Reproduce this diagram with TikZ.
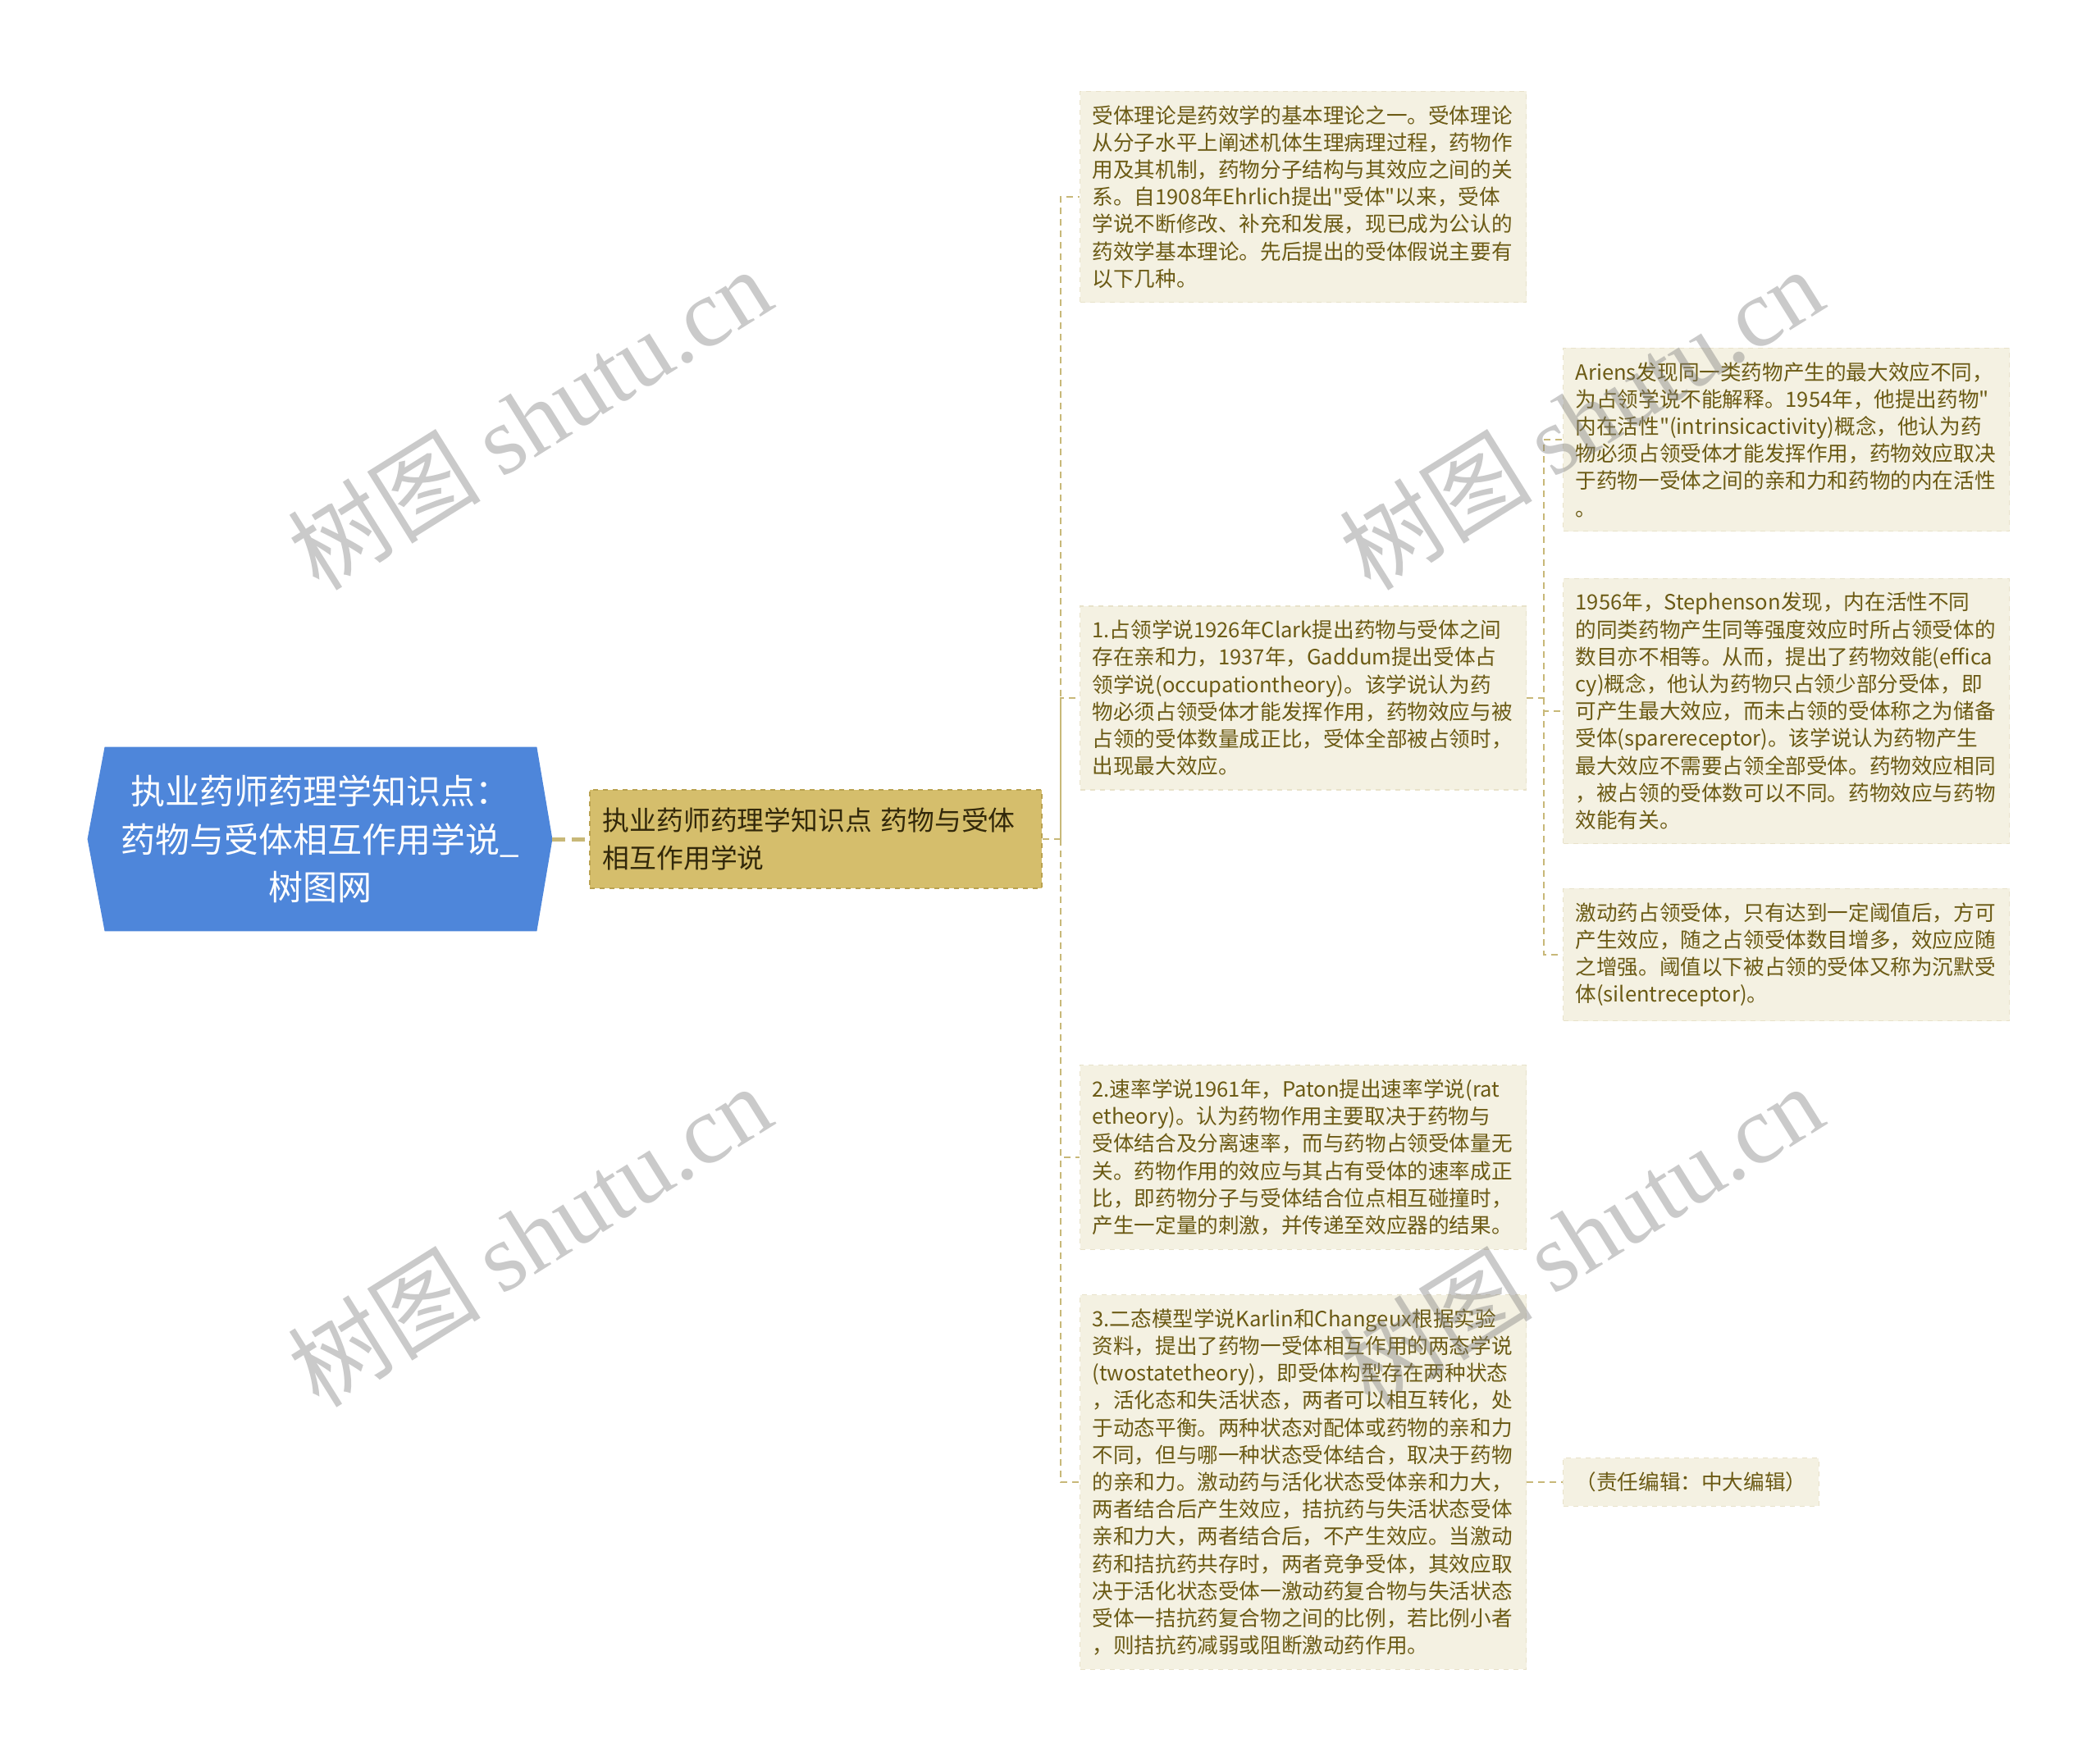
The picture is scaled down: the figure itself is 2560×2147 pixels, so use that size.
\documentclass[tikz,border=0pt]{standalone}
\usepackage{fontspec}
\setmainfont{Noto Sans CJK SC}[Ligatures=TeXOff]
\newfontfamily\wmlatin{Liberation Serif}
\usetikzlibrary{backgrounds}
\definecolor{rootblue}{RGB}{78,134,218}
\definecolor{mainfill}{RGB}{213,190,108}
\definecolor{mainedge}{RGB}{186,162,80}
\definecolor{maintext}{RGB}{50,40,10}
\definecolor{leaffill}{RGB}{244,241,226}
\definecolor{leafedge}{RGB}{232,226,202}
\definecolor{leaftext}{RGB}{107,90,20}
\definecolor{conncol}{RGB}{200,184,120}
\definecolor{wmgray}{RGB}{128,128,128}
\newcommand\leaffont{\fontsize{12.8pt}{16.6pt}\selectfont\hyphenpenalty=10000\exhyphenpenalty=10000\relax}
\newcommand\mainfont{\fontsize{16.4pt}{22.9pt}\selectfont\hyphenpenalty=10000\relax}
\newcommand\rootfont{\fontsize{21pt}{29.4pt}\selectfont}
\newcommand\wmfont{\fontsize{59pt}{68pt}\selectfont}
\begin{document}
\begin{tikzpicture}[x=0.5pt,y=-0.5pt,
  leafbase/.style={fill=leaffill, draw=leafedge, dashed, line width=0.6pt, text=leaftext,
    font=\leaffont, align=left, inner xsep=7.5pt, inner ysep=8.5pt, anchor=west},
  leaf/.style={leafbase, text width=257pt},
  mainnode/.style={fill=mainfill, draw=mainedge, dashed, line width=0.8pt, text=maintext,
    font=\mainfont, align=left, text width=259.5pt, inner xsep=8pt, inner ysep=6pt,
    minimum height=60pt, anchor=west},
  rootnode/.style={text=white, font=\rootfont, align=center, minimum width=283pt,
    minimum height=112pt, inner sep=0pt},
  conn/.style={draw=conncol, line width=1pt, dash pattern=on 4pt off 3pt},
  rootconn/.style={draw=conncol, line width=2.5pt, dash pattern=on 8pt off 4pt},
  wm/.style={text=wmgray, text opacity=0.42, font=\wmfont, rotate=32, inner sep=0pt}]
\useasboundingbox (0,0) rectangle (2560,2147);

% root
\node[rootnode] (root) at (390,1023) {执业药师药理学知识点：\\药物与受体相互作用学说\_\\树图网};
\begin{scope}[on background layer]
\fill[rootblue] ([xshift=10.5pt]root.north west) -- ([xshift=-9.5pt]root.north east) -- (root.east)
  -- ([xshift=-9.5pt]root.south east) -- ([xshift=10.5pt]root.south west) -- (root.west) -- cycle;
\end{scope}

% main
\node[mainnode] (main) at (718,1023) {执业药师药理学知识点 药物与受体\\相互作用学说};

% level 1 leaves
\node[leaf] (L1) at (1316,240) {受体理论是药效学的基本理论之一。受体理论\\从分子水平上阐述机体生理病理过程，药物作\\用及其机制，药物分子结构与其效应之间的关\\系。自1908年Ehrlich提出"受体"以来，受体\\学说不断修改、补充和发展，现已成为公认的\\药效学基本理论。先后提出的受体假说主要有\\以下几种。};
\node[leaf] (L2) at (1316,851) {1.占领学说1926年Clark提出药物与受体之间\\存在亲和力，1937年，Gaddum提出受体占\\领学说(occupationtheory)。该学说认为药\\物必须占领受体才能发挥作用，药物效应与被\\占领的受体数量成正比，受体全部被占领时，\\出现最大效应。};
\node[leaf] (L3) at (1316,1411) {2.速率学说1961年，Paton提出速率学说(rat\\etheory)。认为药物作用主要取决于药物与\\受体结合及分离速率，而与药物占领受体量无\\关。药物作用的效应与其占有受体的速率成正\\比，即药物分子与受体结合位点相互碰撞时，\\产生一定量的刺激，并传递至效应器的结果。};
\node[leaf] (L4) at (1316,1807) {3.二态模型学说Karlin和Changeux根据实验\\资料，提出了药物一受体相互作用的两态学说\\(twostatetheory)，即受体构型存在两种状态\\，活化态和失活状态，两者可以相互转化，处\\于动态平衡。两种状态对配体或药物的亲和力\\不同，但与哪一种状态受体结合，取决于药物\\的亲和力。激动药与活化状态受体亲和力大，\\两者结合后产生效应，拮抗药与失活状态受体\\亲和力大，两者结合后，不产生效应。当激动\\药和拮抗药共存时，两者竞争受体，其效应取\\决于活化状态受体一激动药复合物与失活状态\\受体一拮抗药复合物之间的比例，若比例小者\\，则拮抗药减弱或阻断激动药作用。};

% level 2 leaves
\node[leaf] (A) at (1905,536) {Ariens发现同一类药物产生的最大效应不同，\\为占领学说不能解释。1954年，他提出药物"\\内在活性"(intrinsicactivity)概念，他认为药\\物必须占领受体才能发挥作用，药物效应取决\\于药物一受体之间的亲和力和药物的内在活性\\。};
\node[leaf] (B) at (1905,867) {1956年，Stephenson发现，内在活性不同\\的同类药物产生同等强度效应时所占领受体的\\数目亦不相等。从而，提出了药物效能(effica\\cy)概念，他认为药物只占领少部分受体，即\\可产生最大效应，而未占领的受体称之为储备\\受体(sparereceptor)。该学说认为药物产生\\最大效应不需要占领全部受体。药物效应相同\\，被占领的受体数可以不同。药物效应与药物\\效能有关。};
\node[leaf] (C) at (1905,1164) {激动药占领受体，只有达到一定阈值后，方可\\产生效应，随之占领受体数目增多，效应应随\\之增强。阈值以下被占领的受体又称为沉默受\\体(silentreceptor)。};
\node[leafbase] (D) at (1905,1807) {（责任编辑：中大编辑）};

% connectors
\coordinate (t1) at (1293,1023);
\coordinate (t2) at (1882,851);
\draw[rootconn] (root.east) -- (main.west);
\draw[conn] (main.east) -- (t1) |- (L1.west);
\draw[conn] (t1) |- (L2.west);
\draw[conn] (t1) |- (L3.west);
\draw[conn] (t1) |- (L4.west);
\draw[conn] (L2.east) -- (t2) |- (A.west);
\draw[conn] (t2) |- (B.west);
\draw[conn] (t2) |- (C.west);
\draw[conn] (L4.east) -- (D.west);

% watermarks
\node[wm] (wm1) at (645,510) {树图 {\wmlatin shutu.cn}};
\node[wm] (wm2) at (1927,510) {树图 {\wmlatin shutu.cn}};
\node[wm] (wm3) at (645,1506) {树图 {\wmlatin shutu.cn}};
\node[wm] (wm4) at (1927,1506) {树图 {\wmlatin shutu.cn}};
\end{tikzpicture}
\end{document}
